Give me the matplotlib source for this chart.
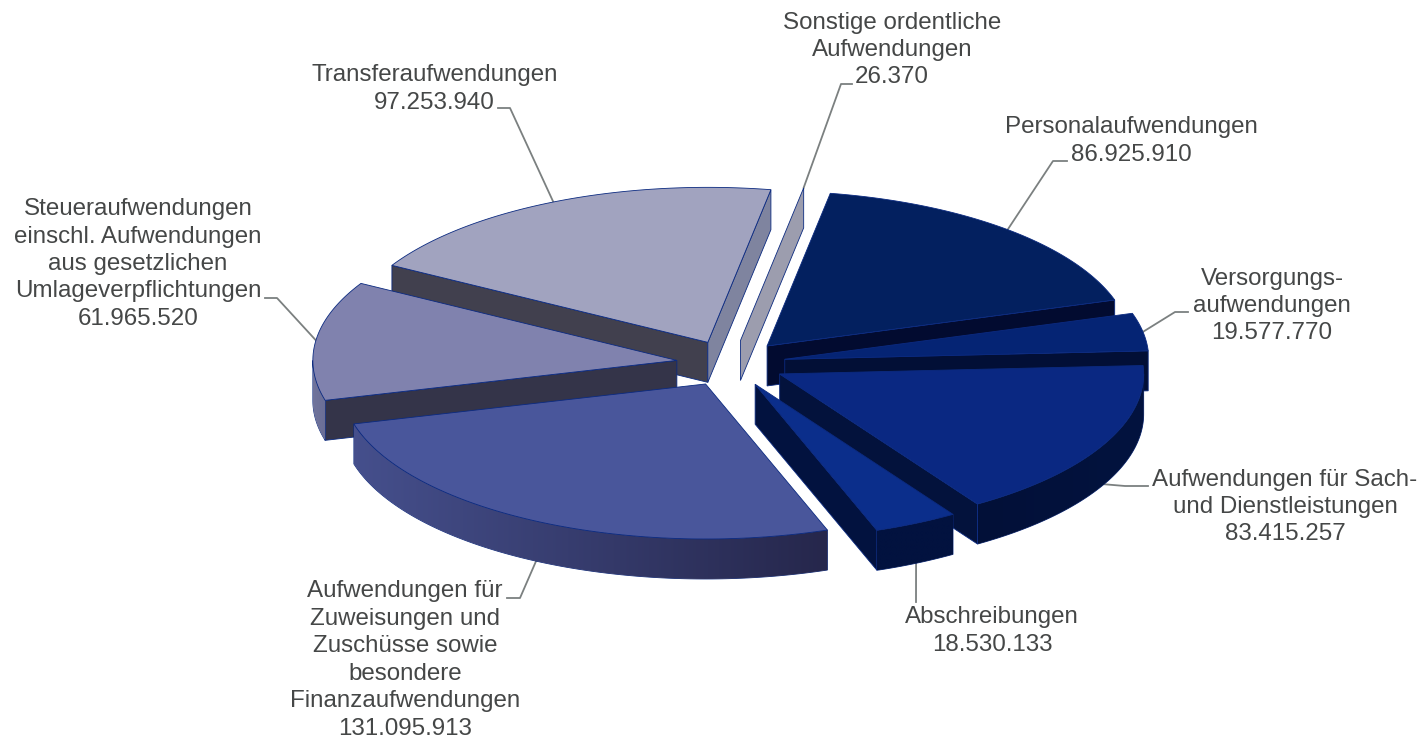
import numpy as np
import matplotlib
matplotlib.use('Agg')
import matplotlib.pyplot as plt
from matplotlib.patches import Polygon

plt.rcParams['font.family'] = ['Liberation Sans', 'DejaVu Sans']

# Data, clockwise from the start angle
names = ['Personalaufwendungen', 'Versorgungs-\naufwendungen', 'Aufwendungen für Sach-\nund Dienstleistungen',
         'Abschreibungen', 'Aufwendungen für\nZuweisungen und\nZuschüsse sowie\nbesondere\nFinanzaufwendungen',
         'Steueraufwendungen\neinschl. Aufwendungen\naus gesetzlichen\nUmlageverpflichtungen',
         'Transferaufwendungen', 'Sonstige ordentliche\nAufwendungen']
values = [86925910, 19577770, 83415257, 18530133, 131095913, 61965520, 97253940, 26370]

# Colours: top, rim left/right, cut face at the first and the last angle
top_col = ['#03205f', '#052474', '#0a2882', '#0b2e8b', '#49569b', '#8082ae', '#a1a3bf', '#9c9dae']
rim_a = ['#020c33', '#020f38', '#021038', '#02123f', '#454f8c', '#70749c', '#7f849f', '#9c9dae']
rim_b = ['#020c33', '#020f38', '#03133f', '#02123f', '#26274c', '#6a6e96', '#7f849f', '#9c9dae']
cut1_col = ['#020b33', '#020f38', '#03123f', '#02123f', '#3d4680', '#343449', '#41404e', '#9c9dae']
cut2_col = ['#020b30', '#020f36', '#03123c', '#02123f', '#3d4680', '#343449', '#7f849f', '#9c9dae']
edge_col = '#0b2a80'
leader_col = '#7b8080'
text_col = '#454747'

# Pie geometry in pixels of the picture
cx, cy = 731, 363.4
rx, ry = 364, 155
depth = 40
explode = 0.15
start_angle = 10.0

# Label layout: text centre and the elbows of each leader line
text_xy = [(1131.5, 141), (1272, 306), (1285, 507), (992, 631), (405, 660), (138, 264), (434.5, 89), (892, 50)]
elbows = [[(1053, 161), (1067, 161)], [(1175, 312), (1188, 312)], [(1125, 486), (1148, 486)],
          [(916, 602)], [(520, 598), (507, 598)], [(277, 298), (265, 298)],
          [(510, 108), (498, 108)], [(841, 84), (852, 84)]]


def pt(a, ox, oy, r=1.0, dz=0.0):
    a = np.radians(a)
    return ox + r * rx * np.sin(a), oy - r * ry * np.cos(a) + dz


fig = plt.figure(figsize=(14.23, 7.40), dpi=100)
ax = fig.add_axes([0, 0, 1, 1])

angles = start_angle + np.concatenate(([0], np.cumsum(values))) / np.sum(values) * 360
mids = (angles[:-1] + angles[1:]) / 2

# leader lines go under the pie
for i in range(len(values)):
    ox, oy = pt(mids[i], cx, cy, explode)
    front = np.cos(np.radians(mids[i])) < 0
    x0, y0 = pt(mids[i], ox, oy, 1.0, depth if front else 0)
    xs = [x0] + [p[0] for p in elbows[i]]
    ys = [y0] + [p[1] for p in elbows[i]]
    ax.plot(xs, ys, color=leader_col, lw=1.3, zorder=1)
    ax.text(text_xy[i][0], text_xy[i][1], names[i] + '\n' + f'{values[i]:,}'.replace(',', '.'),
            ha='center', va='center', multialignment='center', fontsize=17.4,
            color=text_col, linespacing=1.32, zorder=5)

# back slices first
order = np.argsort(-np.cos(np.radians(mids)))
z = 2
for i in order:
    a1, a2 = angles[i], angles[i + 1]
    ox, oy = pt(mids[i], cx, cy, explode)
    arc = np.linspace(a1, a2, max(int(a2 - a1) * 2, 2))
    tx, ty = pt(arc, ox, oy)

    # cut faces
    if np.sin(np.radians(a1)) < 0:
        x1, y1 = pt(a1, ox, oy)
        ax.fill([ox, x1, x1, ox], [oy, y1, y1 + depth, oy + depth], facecolor=cut1_col[i],
                edgecolor=edge_col, lw=0.6, zorder=z)
    if np.sin(np.radians(a2)) > 0:
        x2, y2 = pt(a2, ox, oy)
        ax.fill([ox, x2, x2, ox], [oy, y2, y2 + depth, oy + depth], facecolor=cut2_col[i],
                edgecolor=edge_col, lw=0.6, zorder=z)

    # rim, shaded from left to right through a clipped image
    lo, hi = max(a1, 90), min(a2, 270)
    if hi > lo:
        seg = np.linspace(lo, hi, int((hi - lo) * 2) + 2)
        sx, sy = pt(seg, ox, oy)
        outline = np.c_[np.r_[sx, sx[::-1]], np.r_[sy, sy[::-1] + depth]]
        wall = Polygon(outline, closed=True, facecolor='none', edgecolor=edge_col, lw=0.6, zorder=z)
        ax.add_patch(wall)
        c_a = np.array(matplotlib.colors.to_rgb(rim_a[i]))
        c_b = np.array(matplotlib.colors.to_rgb(rim_b[i]))
        grad = np.linspace(c_a, c_b, 64)[None, :, :]
        im = ax.imshow(grad, extent=[sx.min(), sx.max(), sy.max() + depth, sy.min()],
                       aspect='auto', zorder=z, interpolation='bilinear')
        im.set_clip_path(wall)

    # top
    if a2 - a1 > 1:
        ax.fill(np.r_[ox, tx], np.r_[oy, ty], facecolor=top_col[i], edgecolor=edge_col, lw=0.6, zorder=z)
    z += 1

ax.set_xlim(0, 1423)
ax.set_ylim(740, 0)
ax.axis('off')

fig.savefig('out.png', dpi=100, facecolor='white')
